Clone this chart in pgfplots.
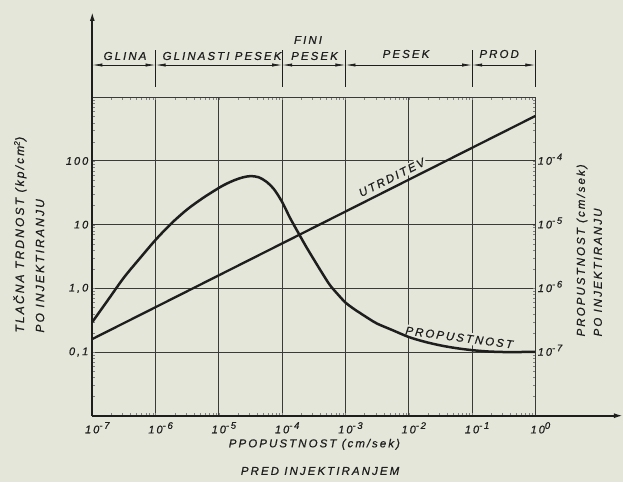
\documentclass[border=0pt]{standalone}
\usepackage{fontspec}
\setmainfont{Liberation Sans}[LetterSpace=18, ItalicFeatures={FakeBold=0.6}]
\usepackage{pgfplots}
\pgfplotsset{compat=1.18}
\usetikzlibrary{arrows.meta}
\definecolor{bg}{RGB}{227,230,216}
\definecolor{ink}{RGB}{30,30,30}
\definecolor{gridc}{RGB}{58,58,55}
\newcommand\lab{\fontsize{11.5}{13}\selectfont\itshape}
\newcommand\blab{\fontsize{12}{14}\selectfont\itshape}
\newcommand\tlab{\fontsize{11}{12}\selectfont\itshape}
\newcommand\sx[1]{\raisebox{4.5pt}{\fontsize{9.5}{10}\selectfont #1}}
\tikzset{dim/.style={ink, line width=0.7pt, {Latex[length=10pt,width=3.2pt]}-{Latex[length=10pt,width=3.2pt]}},
  ext/.style={ink, line width=0.7pt}}
\begin{document}
\begin{tikzpicture}
\fill[bg] (-92.3pt,-66.3pt) rectangle (530.7pt,415.7pt);
\useasboundingbox (-92.3pt,-66.3pt) rectangle (530.7pt,415.7pt);
\begin{axis}[
  at={(0,0)}, anchor=south west,
  scale only axis, width=443.1pt, height=318.4pt,
  xmode=log, ymode=log,
  xmin=1e-7, xmax=1, ymin=0.01, ymax=1000,
  xtick={1e-7,1e-6,1e-5,1e-4,1e-3,1e-2,1e-1,1},
  xticklabels={10\sx{-7},10\sx{-6},10\sx{-5},10\sx{-4},10\sx{-3},10\sx{-2},10\sx{-1},10\sx{0}},
  ytick={0.01,0.1,1,10,100,1000},
  yticklabels={{},{0,1},{1,0},{10},{100},{}},
  minor xtick={}, minor ytick={},
  major tick length=0pt,
  grid=major,
  major grid style={gridc, line width=1pt},
  axis line style={draw=none},
  xticklabel style={font=\tlab, text=ink, anchor=north, xshift=5pt, yshift=-3pt},
  yticklabel style={font=\tlab, text=ink, anchor=east, xshift=-0.5pt},
  clip=false,
]
% frame top and right
\draw[gridc, line width=1pt] (rel axis cs:0,1) -- (rel axis cs:1,1) -- (rel axis cs:1,0);
% labels with background
\node[fill=bg, inner sep=1.5pt, rotate=26.5, font=\lab, text=ink] at (rel axis cs:0.676,0.748) {UTRDITEV};
\node[fill=bg, inner sep=2pt, rotate=-7.5, font=\lab, text=ink] at (rel axis cs:0.828,0.2456) {PROPUSTNOST};
% UTRDITEV
\addplot[ink, line width=2.3pt] table {
x y
1e-7 0.16
1 510
};
% PROPUSTNOST
\addplot[ink, line width=2.5pt, smooth] table {
x y
1e-7 0.296
1.778e-7 0.661
3.162e-7 1.479
5.623e-7 2.951
1e-6 5.77
1.778e-6 10.47
3.162e-6 17.38
5.623e-6 26.3
1e-5 37.8
1.334e-5 44.2
1.778e-5 50.1
2.371e-5 55.2
3.162e-5 57.9
4.217e-5 55.6
5.623e-5 47.3
7.499e-5 35.5
1e-4 22.6
1.334e-4 12.7
1.778e-4 7.59
2.371e-4 4.57
3.162e-4 2.84
4.217e-4 1.78
5.623e-4 1.14
7.499e-4 0.813
1e-3 0.598
1.334e-3 0.481
1.778e-3 0.398
2.371e-3 0.331
3.162e-3 0.279
5.623e-3 0.219
1e-2 0.172
1.778e-2 0.145
3.162e-2 0.127
5.623e-2 0.115
0.1 0.107
0.1778 0.102
0.3162 0.100
0.5623 0.100
1 0.101
};
% axes with arrows
\draw[ink, line width=1.6pt, -{Latex[length=9pt,width=5pt]}] (rel axis cs:0,0) -- (rel axis cs:0,1.268);
\draw[ink, line width=1.6pt, -{Latex[length=9pt,width=5pt]}] (rel axis cs:0,0) -- (rel axis cs:1.1975,0);
% zone band
\draw[dim] (rel axis cs:0,1.1014) -- (rel axis cs:0.142857,1.1014);
\draw[dim] (rel axis cs:0.142857,1.1014) -- (rel axis cs:0.428571,1.1014);
\draw[dim] (rel axis cs:0.428571,1.1014) -- (rel axis cs:0.571429,1.1014);
\draw[dim] (rel axis cs:0.571429,1.1014) -- (rel axis cs:0.857143,1.1014);
\draw[dim] (rel axis cs:0.857143,1.1014) -- (rel axis cs:1,1.1014);
\draw[ext] (rel axis cs:0.142857,1.0324) -- (rel axis cs:0.142857,1.1485);
\draw[ext] (rel axis cs:0.428571,1.0324) -- (rel axis cs:0.428571,1.1485);
\draw[ext] (rel axis cs:0.571429,1.0324) -- (rel axis cs:0.571429,1.1485);
\draw[ext] (rel axis cs:0.857143,1.0324) -- (rel axis cs:0.857143,1.1485);
\draw[ext] (rel axis cs:1,1.0324) -- (rel axis cs:1,1.1485);
\node[font=\lab, text=ink] at (rel axis cs:0.0738,1.1297) {GLINA};
\node[font=\lab, text=ink] at (rel axis cs:0.2927,1.1297) {GLINASTI PESEK};
\node[font=\lab, text=ink] at (rel axis cs:0.4868,1.180) {FINI};
\node[font=\lab, text=ink] at (rel axis cs:0.5015,1.1297) {PESEK};
\node[font=\lab, text=ink] at (rel axis cs:0.708,1.136) {PESEK};
\node[font=\lab, text=ink] at (rel axis cs:0.9182,1.136) {PROD};
% right axis tick labels (10^-6 times left values)
\node[font=\tlab, text=ink, anchor=base west, inner sep=0pt, yshift=-3.7pt] at (rel axis cs:1.005,0.8) {10\sx{-4}};
\node[font=\tlab, text=ink, anchor=base west, inner sep=0pt, yshift=-3.7pt] at (rel axis cs:1.005,0.6) {10\sx{-5}};
\node[font=\tlab, text=ink, anchor=base west, inner sep=0pt, yshift=-3.7pt] at (rel axis cs:1.005,0.4) {10\sx{-6}};
\node[font=\tlab, text=ink, anchor=base west, inner sep=0pt, yshift=-3.7pt] at (rel axis cs:1.005,0.2) {10\sx{-7}};
% axis titles
\node[font=\lab, text=ink] at (rel axis cs:0.5012,-0.0900) {PPOPUSTNOST (cm\,/\,sek)};
\node[font=\lab, text=ink] at (rel axis cs:0.514,-0.1737) {PRED INJEKTIRANJEM};
\node[font=\blab, text=ink, rotate=90, anchor=west] at (rel axis cs:-0.1632,0.25) {TLAČNA TRDNOST (kp/cm\textsuperscript{2})};
\node[font=\blab, text=ink, rotate=90, anchor=west] at (rel axis cs:-0.118,0.25) {PO INJEKTIRANJU};
\node[font=\lab, text=ink, rotate=90, anchor=west] at (rel axis cs:1.105,0.238) {PROPUSTNOST (cm/sek)};
\node[font=\lab, text=ink, rotate=90, anchor=west] at (rel axis cs:1.141,0.238) {PO INJEKTIRANJU};
\end{axis}
\end{tikzpicture}
\end{document}
